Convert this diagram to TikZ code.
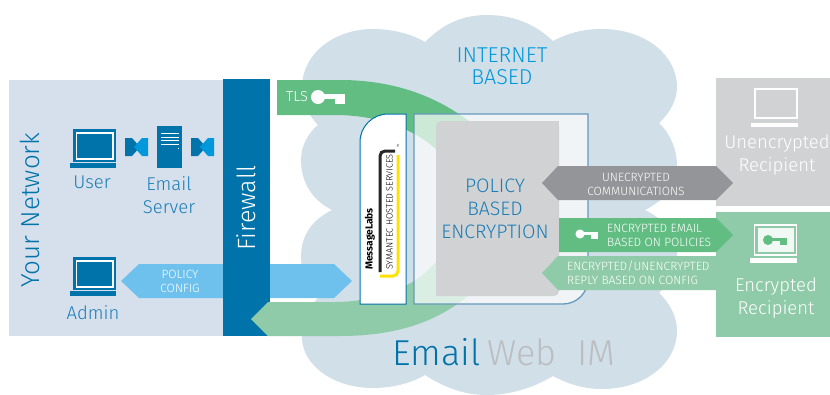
\documentclass[tikz,border=0pt]{standalone}
\usepackage{fontspec}
\setmainfont{Fira Sans Light}
\newfontfamily\boldf{Fira Sans}[UprightFont=*,BoldFont=* Bold]
\definecolor{net}{HTML}{D5E0EC}
\definecolor{cloudc}{HTML}{D1DFE9}
\definecolor{fw}{HTML}{0073AB}
\definecolor{sky}{HTML}{6EC1EC}
\definecolor{grn}{HTML}{62BD83}
\definecolor{lgrn}{HTML}{8FCBA8}
\definecolor{gr}{HTML}{D1D2D4}
\definecolor{dgr}{HTML}{939598}
\definecolor{lb}{HTML}{0098DB}
\definecolor{txb}{HTML}{1C7DB5}
\definecolor{bxs}{HTML}{6699BB}
\definecolor{wim}{HTML}{BBBDBF}
\tikzset{
 x=1pt,y=-1pt,
 lbl/.style={inner sep=0pt,align=center,font=\fontsize{18.5}{23}\selectfont},
 sml/.style={inner sep=0pt,align=center,text=white,font=\fontsize{12}{14}\selectfont},
 smll/.style={sml,align=left,anchor=west},
}
\newcommand{\laptopicon}[3]{% x,y,color
 \begin{scope}[shift={(#1,#2)}]
 \fill[#3] (0,0) rectangle (43,33);
 \draw[white,line width=1.3pt] (3.5,4) rectangle (40,30);
 \fill[#3] (-3,34) rectangle (43,39);
 \end{scope}}
\newcommand{\tieicon}[2]{%
 \begin{scope}[shift={(#1,#2)}]
 \fill[fw] (0,0) -- (7,0) -- (15,9) -- (7,18) -- (0,18) -- cycle;
 \fill[lb] (23,0) -- (17,0) -- (9,9) -- (17,18) -- (23,18) -- cycle;
 \end{scope}}
\newcommand{\keyshape}[4]{% x,y,scale,color
 \begin{scope}[shift={(#1,#2)},scale=#3]
 \fill[#4] (0,0) circle (7);
 \fill[#4] (5,-3) rectangle (27,2);
 \fill[#4] (17,-3) rectangle (27,7);
 \end{scope}}
\begin{document}
\begin{tikzpicture}
\useasboundingbox (0,0) rectangle (830,394);
% cloud
\fill[cloudc] (425,42)
 .. controls (445,22) and (465,15) .. (487,15)
 .. controls (510,15) and (533,22) .. (553,41)
 .. controls (570,32) and (585,29) .. (602,29)
 .. controls (645,29) and (677,55) .. (677,87)
 .. controls (677,100) and (670,113) .. (659,123)
 .. controls (670,133) and (677,150) .. (677,165)
 .. controls (677,185) and (665,200) .. (645,210)
 .. controls (665,220) and (677,235) .. (677,250)
 .. controls (677,268) and (670,283) .. (659,293)
 .. controls (670,303) and (677,317) .. (677,331)
 .. controls (677,363) and (645,389) .. (602,389)
 .. controls (585,389) and (570,385) .. (553,376)
 .. controls (533,388) and (510,395) .. (487,395)
 .. controls (465,395) and (445,388) .. (425,375)
 .. controls (410,384) and (390,388) .. (373,388)
 .. controls (333,388) and (302,365) .. (302,337)
 .. controls (302,322) and (308,308) .. (318,298)
 .. controls (308,288) and (301,272) .. (301,257)
 .. controls (301,235) and (312,220) .. (332,210)
 .. controls (312,200) and (301,182) .. (301,160)
 .. controls (301,146) and (308,133) .. (318,125)
 .. controls (308,115) and (302,100) .. (302,87)
 .. controls (302,55) and (333,29) .. (373,29)
 .. controls (390,29) and (410,33) .. (425,42) -- cycle;
% left panels
\fill[net] (9,80) rectangle (223,336);
\fill[gr] (716,78) rectangle (830,206);
\fill[lgrn] (716,212) rectangle (830,337);
% policy arrow
\fill[sky] (121,281) -- (139,264) -- (334,264) -- (352,281) -- (334,298) -- (139,298) -- cycle;
\fill[fw] (223,79) rectangle (270,336);
% green arcs
\fill[grn] (277,80) -- (340,80) .. controls (400,80) and (445,100) .. (480,130) -- (480,170) -- (440,170)
  -- (437,150) .. controls (415,130) and (380,115) .. (335,115) -- (277,115) -- cycle;
\fill[lgrn] (251,319) -- (268,302) -- (335,302) .. controls (370,302) and (415,290) .. (437,260)
  -- (440,240) -- (480,240) -- (480,285) .. controls (445,320) and (400,336) .. (340,336) -- (268,336) -- cycle;
% box
\fill[white,opacity=.68] (414,114) -- (588,114) -- (588,279) arc[start angle=0,end angle=90,radius=25] -- (414,304) -- cycle;
\draw[bxs,line width=1.3pt] (414,114) -- (588,114) -- (588,279) arc[start angle=0,end angle=90,radius=25] -- (414,304) -- cycle;
% gray box
\fill[gr,rounded corners=5pt] (436,121) -- (559,121) -- (559,296) -- (436,296) -- cycle;
\fill[gr] (436,290) rectangle (445,296);
\fill[gr] (550,121) rectangle (559,130);
\node[lbl,text=txb,font=\fontsize{19.5}{23}\selectfont] (pbe) at (495,209) {POLICY\\BASED\\ENCRYPTION};
% card
\draw[fw,fill=white,line width=1pt] (360,304) -- (360,142) arc[start angle=180,end angle=270,radius=28] -- (406,114) -- (406,304) -- cycle;
\draw[black!85,line width=3pt] (380,272) -- (380,156) arc[start angle=180,end angle=270,radius=5] -- (395,151);
\draw[yellow!85!orange,line width=3pt] (398,155) -- (398,271) arc[start angle=0,end angle=90,radius=5] -- (380,276);
\node[rotate=90,anchor=west,inner sep=0pt,text=black,font=\boldf\bfseries\fontsize{10.2}{11}\selectfont] (ml) at (370,270) {MessageLabs};
\node[rotate=90,anchor=west,inner sep=0pt,text=black,font=\fontsize{9.1}{10}\selectfont] (sy) at (389.5,270) {SYMANTEC HOSTED SERVICES};
\node[rotate=90,inner sep=0pt,text=black,font=\fontsize{3}{3}\selectfont] (tm) at (398,146) {TM};
% arrows right
\fill[dgr] (542,183) -- (558,166) -- (716,166) -- (733,183) -- (716,200) -- (558,200) -- cycle;
\fill[grn] (559,218) -- (716,218) -- (733,235) -- (716,252) -- (559,252) -- cycle;
\fill[lgrn] (542,273) -- (558,256) -- (716,256) -- (716,290) -- (558,290) -- cycle;
% laptops & icons
\laptopicon{73}{129}{fw}
\laptopicon{73}{257}{fw}
\tieicon{125}{138}
\tieicon{191}{138}
\fill[fw] (157,126) rectangle (182,168);
\foreach \yy in {133,137,140,144} \draw[white,line width=.7pt] (161,\yy) -- (179,\yy);
\fill[white] (177.5,147.5) rectangle (178.5,148.5);
% white laptop
\draw[white,line width=2pt] (755,89) rectangle (797,118);
\fill[white] (751,123) rectangle (798,127);
% encrypted laptop
\draw[white,line width=1.4pt] (754.5,225) rectangle (796.5,255);
\fill[white!88!lgrn] (757.5,228) rectangle (793.5,252);
\fill[white] (750,258) rectangle (797,263);
\keyshape{768}{240}{.72}{grn}
\keyshape{318}{97}{1}{white}
\keyshape{580}{234}{.65}{white}
% texts
\node[lbl,rotate=90,text=fw,font=\fontsize{26}{30}\selectfont] (yn) at (30,210) {Your Network};
\node[lbl,rotate=90,text=white,font=\fontsize{25}{30}\selectfont] (fwt) at (246,208) {Firewall};
\node[lbl,text=txb] (u) at (92,182) {User};
\node[lbl,text=txb] (es) at (169,195) {Email\\Server};
\node[lbl,text=txb] (ad) at (93,313) {Admin};
\node[sml] (pc) at (180,281) {POLICY\\CONFIG};
\node[inner sep=0pt,text=white,font=\fontsize{14.5}{16}\selectfont] (tls) at (297,97) {TLS};
\node[lbl,text=lb,font=\fontsize{21.5}{22}\selectfont] (ib) at (502,66) {INTERNET\\BASED};
\node[inner sep=0pt,anchor=base west,text=fw,font=\fontsize{36}{40}\selectfont] (em) at (392,365) {Email};
\node[inner sep=0pt,anchor=base west,text=wim,font=\fontsize{36}{40}\selectfont] (we) at (487,365) {Web};
\node[inner sep=0pt,anchor=base west,text=wim,font=\fontsize{36}{40}\selectfont] (im) at (577,365) {IM};
\node[sml] (uc) at (636,184) {UNECRYPTED\\COMMUNICATIONS};
\node[smll] (ee) at (607,235) {ENCRYPTED EMAIL\\BASED ON POLICIES};
\node[smll] (re) at (567,273) {ENCRYPTED/UNENCRYPTED\\REPLY BASED ON CONFIG};
\node[lbl,text=white] (ur) at (777,155) {Unencrypted\\Recipient};
\node[lbl,text=white] (er) at (776,298) {Encrypted\\Recipient};
\end{tikzpicture}
\end{document}
